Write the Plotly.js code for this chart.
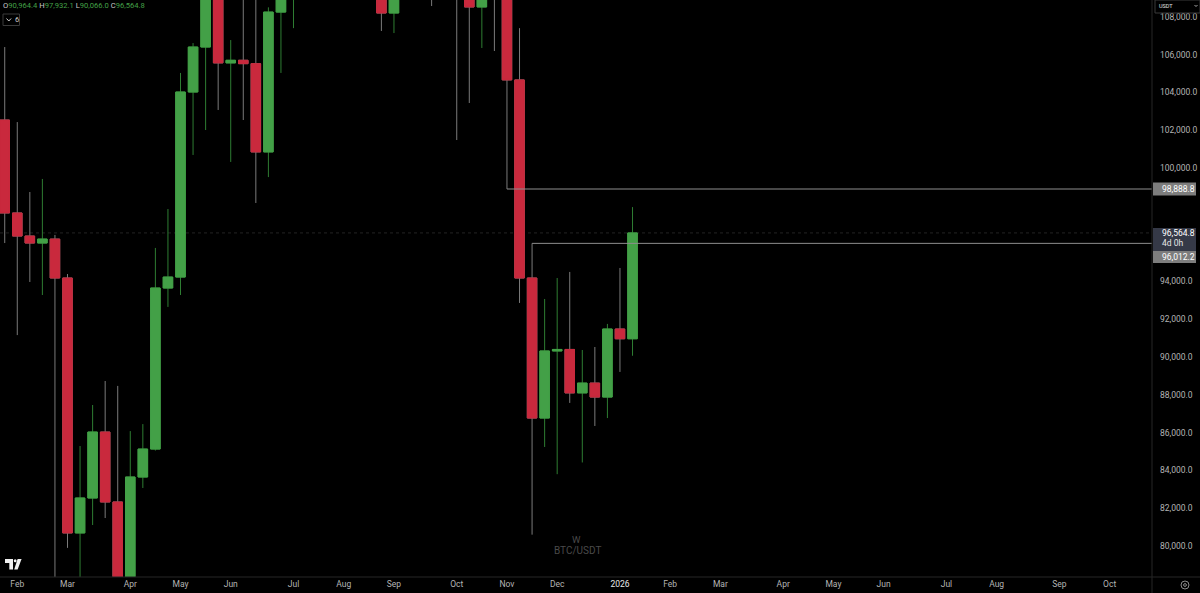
<!DOCTYPE html>
<html>
<head>
<meta charset="utf-8">
<script src="https://cdn.plot.ly/plotly-3.0.1.min.js"></script>
<style>html,body{margin:0;padding:0;background:#000;}#chart{width:1200px;height:593px;}</style>
</head>
<body>
<div id="chart"></div>
<script>
// ---- data (weekly BTC/USDT candles) ----
const weeks = [
'2025-01-20','2025-01-27','2025-02-03','2025-02-10','2025-02-17','2025-02-24',
'2025-03-03','2025-03-10','2025-03-17','2025-03-24','2025-03-31',
'2025-04-07','2025-04-14','2025-04-21','2025-04-28',
'2025-05-05','2025-05-12','2025-05-19','2025-05-26',
'2025-06-02','2025-06-09','2025-06-16','2025-06-23','2025-06-30',
'2025-07-07','2025-07-14','2025-07-21','2025-07-28',
'2025-08-04','2025-08-11','2025-08-18','2025-08-25',
'2025-09-01','2025-09-08','2025-09-15','2025-09-22','2025-09-29',
'2025-10-06','2025-10-13','2025-10-20','2025-10-27',
'2025-11-03','2025-11-10','2025-11-17','2025-11-24',
'2025-12-01','2025-12-08','2025-12-15','2025-12-22','2025-12-29',
'2026-01-05','2026-01-12'];
const openP = [
101300,102540,97620,96400,96030,96240,
94180,80690,82540,86030,82330,
78370,83650,85130,93650,
94230,104020,106400,109000,
105560,105700,105520,100850,108250,
109200,119100,117300,119400,
114200,119300,117400,113500,
108200,111100,115300,115200,112100,
123500,115100,108520,114500,
110500,104660,94180,86770,
90320,90400,88100,88620,87880,
91480,90964.4];
const highP = [
109600,106400,102430,98730,99420,96460,
94390,85290,87460,88730,88470,
86080,86450,95770,97830,
105030,106610,111000,110400,
106770,110500,108900,108500,110500,
119500,123200,120200,119800,
122300,124500,117600,113600,
113400,116700,117900,115400,125700,
126200,115900,116000,116400,
110600,107400,96012.2,93070,
94180,94500,90370,90530,91750,
94710,97932.1];
const lowP = [
99500,96030,91160,93970,93280,78250,
79900,76600,81110,81480,77100,
74500,83070,85050,92650,
93280,100690,102010,103070,
100320,102540,98150,99520,105030,
107400,115700,114700,111900,
112600,116800,110600,107250,
107140,110600,114800,108570,111600,
101480,103440,106350,106190,
98888.8,92860,80600,85240,
83800,87570,84420,86350,86770,
89210,90066.0];
const closeP = [
102540,97620,96400,96030,96240,94180,
80690,82540,86030,82330,78370,
83650,85130,93650,94230,
104020,106400,109000,105560,
105700,105520,100850,108250,109200,
119100,117300,119400,114200,
119300,117400,113500,108200,
111100,115300,115200,112100,123500,
115100,108520,114500,110500,
104660,94180,86770,90320,
90400,88100,88620,87880,91480,
90964.4,96564.8];

// horizontal level lines (drawn from the wick they start at)
const levelValues = [98888.8, 96012.2];
const levelStarts = ['2025-11-03', '2025-11-17'];

// price-axis ticks
const priceTicks = [80000,82000,84000,86000,88000,90000,92000,94000,96000,98000,100000,102000,104000,106000,108000];

// x-axis month ticks
const monthTickDates = ['2025-02-03','2025-03-03','2025-04-07','2025-05-05','2025-06-02','2025-07-07',
  '2025-08-04','2025-09-01','2025-10-06','2025-11-03','2025-12-01','2026-01-05','2026-02-02',
  '2026-03-02','2026-04-06','2026-05-04','2026-06-01','2026-07-06','2026-08-03','2026-09-07','2026-10-05'];
const monthTickLabels = ['Feb','Mar','Apr','May','Jun','Jul','Aug','Sep','Oct','Nov','Dec','2026',
  'Feb','Mar','Apr','May','Jun','Jul','Aug','Sep','Oct'];

// ---- styling ----
const UP = '#43A047', DOWN = '#C9293D';
const WICK_UP = '#2E7D32', WICK_DOWN = '#7a7a7a';
const FONT = 'Roboto, "Noto Sans", sans-serif';
const PW = 1152, PH = 577;            // plot area in px
const px = x => x / PW;
const py = y => (PH - y) / PH;

const DAY = 864e5;
const anchor = Date.UTC(2025, 2, 3);
const pxPerDay = 12.556 / 7;
const fmtD = ms => new Date(ms).toISOString().slice(0, 19).replace('T', ' ');
const xr0 = fmtD(anchor - (67.5 / pxPerDay) * DAY);
const xr1 = fmtD(anchor + ((PW - 67.5) / pxPerDay) * DAY);
const yRange = [78360, 108889];

const bodyHigh = openP.map((o, i) => Math.max(o, closeP[i]));
const bodyLow = openP.map((o, i) => Math.min(o, closeP[i]));

const fmt = v => v.toLocaleString('en-US', {minimumFractionDigits: 1, maximumFractionDigits: 1});
const n = weeks.length - 1;
const lastUp = closeP[n] >= openP[n];
const valColor = lastUp ? UP : DOWN;

// hide axis ticks that sit under the price labels (as the trading platform does)
const labelVals = [levelValues[0], closeP[n], levelValues[1]];
const tooClose = 900;
const shownTicks = priceTicks.filter(t => labelVals.every(v => Math.abs(v - t) > tooClose));

const traces = [
  { type: 'candlestick', x: weeks, open: openP, high: highP, low: lowP, close: closeP,
    whiskerwidth: 0, hoverinfo: 'skip',
    increasing: {line: {color: WICK_UP, width: 1}, fillcolor: UP},
    decreasing: {line: {color: WICK_DOWN, width: 1}, fillcolor: DOWN} },
  { type: 'candlestick', x: weeks, open: openP, high: bodyHigh, low: bodyLow, close: closeP,
    whiskerwidth: 0, hoverinfo: 'skip',
    increasing: {line: {color: UP, width: 1}, fillcolor: UP},
    decreasing: {line: {color: DOWN, width: 1}, fillcolor: DOWN} }
];

const shapes = [];
levelValues.forEach((v, i) => {
  shapes.push({type: 'line', xref: 'x', yref: 'y', x0: levelStarts[i], x1: '2028-01-01',
    y0: v, y1: v, line: {color: '#8e8e8e', width: 1}});
});
// current price dotted line
shapes.push({type: 'line', xref: 'paper', yref: 'y', x0: 0, x1: 1, y0: closeP[n], y1: closeP[n],
  line: {color: 'rgba(100,100,100,0.35)', width: 1, dash: 'dot'}, layer: 'below'});
// separators
shapes.push({type: 'line', xref: 'paper', yref: 'paper', x0: 0, x1: px(1200), y0: 0, y1: 0,
  line: {color: '#262626', width: 1}});
shapes.push({type: 'line', xref: 'paper', yref: 'paper', x0: 1, x1: 1, y0: py(593), y1: 1,
  line: {color: '#262626', width: 1}});
// price label boxes
const boxX0 = px(1153), boxX1 = px(1196);
shapes.push({type: 'rect', xref: 'paper', yref: 'y', ysizemode: 'pixel', yanchor: levelValues[0],
  y0: -6.5, y1: 6.5, x0: boxX0, x1: boxX1, fillcolor: '#7d7d7d', line: {width: 0}});
shapes.push({type: 'rect', xref: 'paper', yref: 'y', ysizemode: 'pixel', yanchor: closeP[n],
  y0: -18, y1: 5, x0: boxX0, x1: boxX1, fillcolor: '#353947', line: {width: 0}});
shapes.push({type: 'rect', xref: 'paper', yref: 'y', ysizemode: 'pixel', yanchor: levelValues[1],
  y0: -19.6, y1: -7.6, x0: boxX0, x1: boxX1, fillcolor: '#7d7d7d', line: {width: 0}});
// USDT box
shapes.push({type: 'rect', xref: 'paper', yref: 'paper', x0: px(1155), x1: px(1200), y0: py(13), y1: py(0),
  fillcolor: '#000', line: {color: '#3a3a3a', width: 1}});
// "v 6" box
shapes.push({type: 'rect', xref: 'paper', yref: 'paper', x0: px(3), x1: px(19.5), y0: py(25.5), y1: py(14),
  fillcolor: '#000', line: {color: '#3a3a3a', width: 1}});
// settings icon
shapes.push({type: 'circle', xref: 'paper', yref: 'paper', x0: px(1181), x1: px(1189), y0: py(589), y1: py(581),
  line: {color: '#8a8a8a', width: 1}});
shapes.push({type: 'circle', xref: 'paper', yref: 'paper', x0: px(1183.6), x1: px(1186.4), y0: py(586.4), y1: py(583.6),
  line: {color: '#8a8a8a', width: 1}});
// chevron in the "v 6" box
shapes.push({type: 'path', xref: 'paper', yref: 'paper', line: {color: '#cfcfcf', width: 1},
  path: 'M' + px(6.5) + ',' + py(18.5) + ' L' + px(8.8) + ',' + py(21) + ' L' + px(11.1) + ',' + py(18.5)});
// chevron in the USDT box
shapes.push({type: 'path', xref: 'paper', yref: 'paper', line: {color: '#cfcfcf', width: 0.8},
  path: 'M' + px(1194.5) + ',' + py(5) + ' L' + px(1196) + ',' + py(6.5) + ' L' + px(1197.5) + ',' + py(5)});
// TradingView logo
const P = pts => pts.map((p, i) => (i ? 'L' : 'M') + px(p[0]) + ',' + py(p[1])).join(' ') + ' Z';
shapes.push({type: 'path', xref: 'paper', yref: 'paper', fillcolor: '#f0f0f0', line: {width: 0},
  path: P([[5, 559], [13, 559], [13, 569.5], [9.3, 569.5], [9.3, 563], [5, 563]])});
shapes.push({type: 'circle', xref: 'paper', yref: 'paper', fillcolor: '#f0f0f0', line: {width: 0},
  x0: px(13.8), x1: px(16.6), y0: py(562.2), y1: py(559.2)});
shapes.push({type: 'path', xref: 'paper', yref: 'paper', fillcolor: '#f0f0f0', line: {width: 0},
  path: P([[17.6, 559], [21.6, 559], [17.6, 569.5], [14.2, 569.5]])});

const legendText = ['O', 'H', 'L', 'C'].map((k, i) => {
  const v = [openP[n], highP[n], lowP[n], closeP[n]][i];
  return '<span style="color:#c8c8c8">' + k + '</span><span style="color:' + valColor + '">' + fmt(v) + '</span>';
}).join(' ');

const annotations = [
  {xref: 'paper', yref: 'paper', x: px(0.5), y: py(5), xanchor: 'left', yanchor: 'middle', showarrow: false,
    text: legendText, font: {family: FONT, size: 7.6}},
  {xref: 'paper', yref: 'paper', x: px(13.3), y: py(19.8), xanchor: 'left', yanchor: 'middle', showarrow: false,
    text: '6', font: {family: FONT, size: 7.5, color: '#cfcfcf'}},
  {xref: 'paper', yref: 'paper', x: px(1157), y: py(5.5), xanchor: 'left', yanchor: 'middle', showarrow: false,
    text: 'USDT', font: {family: FONT, size: 5.5, color: '#e0e0e0'}},
  {xref: 'paper', yref: 'y', x: px(1159.5), y: levelValues[0], xanchor: 'left', yanchor: 'middle', showarrow: false,
    text: fmt(levelValues[0]), font: {family: FONT, size: 8.5, color: '#ffffff'}},
  {xref: 'paper', yref: 'y', x: px(1159.5), y: closeP[n], xanchor: 'left', yanchor: 'middle', showarrow: false,
    text: fmt(closeP[n]), font: {family: FONT, size: 8.5, color: '#ffffff'}},
  {xref: 'paper', yref: 'y', x: px(1159.5), y: closeP[n], yshift: -10, xanchor: 'left', yanchor: 'middle', showarrow: false,
    text: '4d 0h', font: {family: FONT, size: 8.5, color: '#e6e6e6'}},
  {xref: 'paper', yref: 'y', x: px(1159.5), y: levelValues[1], yshift: -13.6, xanchor: 'left', yanchor: 'middle', showarrow: false,
    text: fmt(levelValues[1]), font: {family: FONT, size: 8.5, color: '#ffffff'}},
  {xref: 'paper', yref: 'paper', x: px(576), y: py(539), xanchor: 'center', yanchor: 'middle', showarrow: false,
    text: 'W', font: {family: FONT, size: 9.5, color: '#4a4a4a'}},
  {xref: 'paper', yref: 'paper', x: px(577), y: py(550.5), xanchor: 'center', yanchor: 'middle', showarrow: false,
    text: 'BTC/USDT', font: {family: FONT, size: 10, color: '#4a4a4a'}}
];

const layout = {
  width: 1200, height: 593,
  paper_bgcolor: '#000', plot_bgcolor: '#000',
  margin: {l: 0, r: 48, t: 0, b: 16, pad: 0},
  showlegend: false,
  boxgap: 0.24, boxgroupgap: 0,
  hovermode: false,
  xaxis: {type: 'date', range: [xr0, xr1], fixedrange: true,
    rangeslider: {visible: false},
    tickmode: 'array', tickvals: monthTickDates,
    ticktext: monthTickLabels.map(t => /^\d{4}$/.test(t) ? '<span style="color:#e8e8e8">' + t + '</span>' : t),
    tickfont: {family: FONT, size: 8.5, color: '#b4b4b4'},
    showgrid: false, zeroline: false, showline: false, ticks: ''},
  yaxis: {side: 'right', range: yRange, fixedrange: true,
    tickmode: 'array', tickvals: shownTicks, ticktext: shownTicks.map(fmt),
    tickfont: {family: FONT, size: 8.5, color: '#b4b4b4'},
    ticklabelstandoff: 7,
    showgrid: false, zeroline: false, showline: false, ticks: ''},
  shapes: shapes,
  annotations: annotations
};

Plotly.newPlot('chart', traces, layout, {staticPlot: true, displayModeBar: false});
</script>
</body>
</html>
